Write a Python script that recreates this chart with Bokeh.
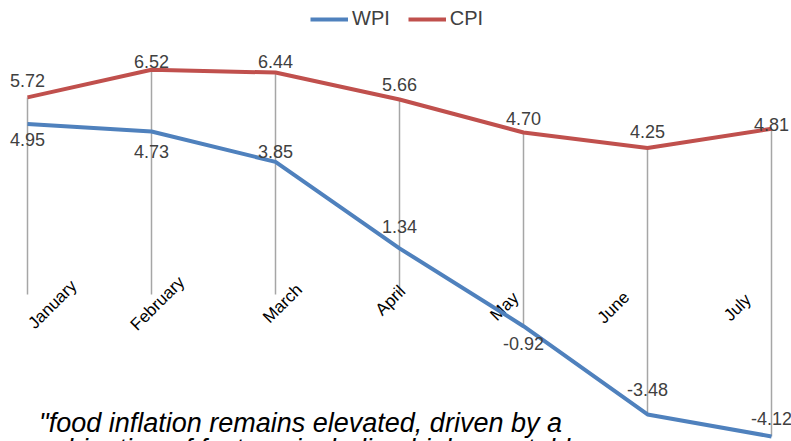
import math
from bokeh.plotting import figure
from bokeh.models import Range1d, ColumnDataSource, Legend, LegendItem, Label
from bokeh.core.properties import value
from bokeh.embed import file_html
from bokeh.resources import INLINE

# ---------------- data ----------------
months = ["January", "February", "March", "April", "May", "June", "July"]
wpi = [4.95, 4.73, 3.85, 1.34, -0.92, -3.48, -4.12]
cpi = [5.72, 6.52, 6.44, 5.66, 4.70, 4.25, 4.81]
quote_lines = ['"food inflation remains elevated, driven by a',
               'combination of factors, including high vegetable']

# ---------------- style ----------------
W, H = 791, 441
PX_PER_UNIT = 34.46      # px per percentage point
ZERO_PX = 294            # zero line, px from top of frame
FIRST_PX = 27            # first category, px from left
STEP_PX = 124            # px between categories
BLUE = "#4F81BD"
RED = "#C0504D"
GRID = "#A6A6A6"
FONT = "Liberation Sans"

cat_dx = [25, 6, 7, -9, -19, -34, -34]
cat_dy = [10, 9, 9, 6, 12, 13, 13]
cpi_dy = [-17, -8, -11, -15, -14, -17, -4]
wpi_dy = [16, 20, -10, -22, 17, -25, -18]
quote_y = [19, -7]

y_top = ZERO_PX / PX_PER_UNIT
y_bot = -(H - ZERO_PX) / PX_PER_UNIT
x_lo = -FIRST_PX / STEP_PX
x_hi = (W - FIRST_PX) / STEP_PX

p = figure(width=W, height=H, output_backend="svg", toolbar_location=None,
           x_range=Range1d(x_lo, x_hi), y_range=Range1d(y_bot, y_top), min_border=0)
p.axis.visible = False
p.grid.visible = False
p.outline_line_color = None
p.background_fill_color = "white"

idx = list(range(len(months)))
src = ColumnDataSource(dict(
    x=idx, month=months, wpi=wpi, cpi=cpi, zero=[0] * len(months),
    hi=[max(0, a, b) for a, b in zip(wpi, cpi)],
    lo=[min(0, a, b) for a, b in zip(wpi, cpi)],
    wpi_txt=[f"{v:.2f}" for v in wpi], cpi_txt=[f"{v:.2f}" for v in cpi],
    cat_dx=cat_dx, cat_dy=cat_dy, cpi_dy=cpi_dy, wpi_dy=wpi_dy,
))

# drop lines
p.segment(x0="x", y0="hi", x1="x", y1="lo", source=src,
          line_color=GRID, line_width=1.5)

# category labels on the zero line
p.text(x="x", y="zero", text="month", source=src, angle=math.pi / 4,
       x_offset="cat_dx", y_offset="cat_dy", text_align="center", text_baseline="middle",
       text_font=value(FONT), text_font_size=value("17px"), text_color="black")

l_wpi = p.line(x="x", y="wpi", source=src, line_color=BLUE, line_width=4, line_join="round")
l_cpi = p.line(x="x", y="cpi", source=src, line_color=RED, line_width=4, line_join="round")

# data labels
p.text(x="x", y="cpi", text="cpi_txt", source=src, y_offset="cpi_dy",
       text_align="center", text_baseline="middle",
       text_font=value(FONT), text_font_size=value("18px"), text_color="#404040")
p.text(x="x", y="wpi", text="wpi_txt", source=src, y_offset="wpi_dy",
       text_align="center", text_baseline="middle",
       text_font=value(FONT), text_font_size=value("18px"), text_color="#404040")

legend = Legend(items=[LegendItem(label="WPI", renderers=[l_wpi]),
                       LegendItem(label="CPI", renderers=[l_cpi])],
                orientation="horizontal", location=(310, 411),
                glyph_width=38, glyph_height=20, label_height=20, label_standoff=4,
                spacing=18, padding=0, margin=0, border_line_color=None,
                background_fill_alpha=0, label_text_font=FONT,
                label_text_font_size="20px", label_text_color="#404040")
p.add_layout(legend)

for line, yy in zip(quote_lines, quote_y):
    p.add_layout(Label(x=300, y=yy, x_units="screen", y_units="screen",
                       text=line, text_align="center", text_baseline="alphabetic",
                       text_font=FONT, text_font_size="27px", text_font_style="italic",
                       text_color="black"))

open("out.html", "w").write(file_html(p, INLINE))
